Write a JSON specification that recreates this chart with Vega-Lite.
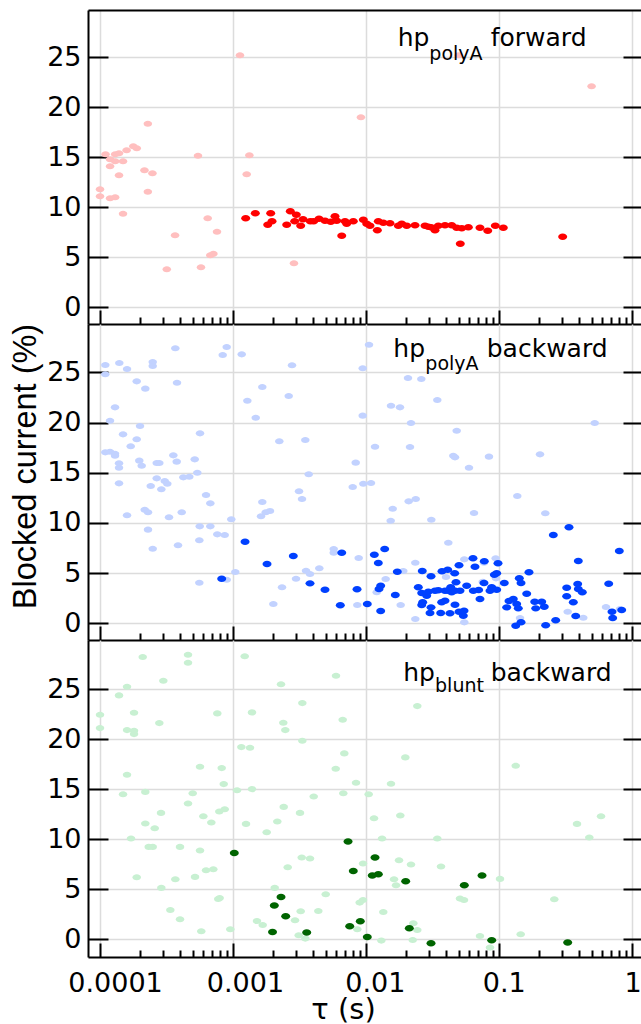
{
  "$schema": "https://vega.github.io/schema/vega-lite/v6.json",
  "padding": {"left": 9, "top": 10, "right": 0, "bottom": 0},
  "background": "white",
  "spacing": 0,
  "bounds": "flush",
  "config": {
    "view": {"stroke": null},
    "axis": {"labelColor": "black", "titleColor": "black", "titleFontWeight": "normal", "labelFont": "DejaVu Sans", "titleFont": "Liberation Sans"}
  },
  "datasets": {
    "forward_all": [
      {"tau":0.0001,"current":11.8},{"tau":0.0001,"current":11.1},{"tau":0.00011,"current":15.3},{"tau":0.000119,"current":14.8},{"tau":0.00013,"current":15.3},{"tau":0.000139,"current":15.4},{"tau":0.00013,"current":14.6},{"tau":0.000149,"current":14.6},{"tau":0.0001585,"current":15.7},{"tau":0.000178,"current":16.1},{"tau":0.000189,"current":15.9},{"tau":0.000119,"current":14.1},{"tau":0.000139,"current":13.2},{"tau":0.000119,"current":10.9},{"tau":0.00013,"current":11.0},{"tau":0.000149,"current":9.35},{"tau":0.000216,"current":13.7},{"tau":0.000248,"current":13.4},{"tau":0.000229,"current":11.55},{"tau":0.000229,"current":18.35},{"tau":0.000318,"current":3.8},{"tau":0.000367,"current":7.2},{"tau":0.000546,"current":15.15},{"tau":0.000575,"current":4.0},{"tau":0.000646,"current":8.9},{"tau":0.000759,"current":7.55},{"tau":0.000676,"current":5.2},{"tau":0.000713,"current":5.35},{"tau":0.00113,"current":25.2},{"tau":0.00133,"current":15.2},{"tau":0.00127,"current":13.3},{"tau":0.00288,"current":4.4},{"tau":0.00919,"current":19.0},{"tau":0.05,"current":25.2},{"tau":0.5,"current":22.1}
    ],
    "forward_sel": [
      {"tau":0.001248,"current":8.9},{"tau":0.001474,"current":9.4},{"tau":0.001925,"current":9.4},{"tau":0.001828,"current":8.25},{"tau":0.001969,"current":8.6},{"tau":0.00254,"current":8.25},{"tau":0.002703,"current":9.6},{"tau":0.003,"current":9.25},{"tau":0.002917,"current":8.6},{"tau":0.003236,"current":8.15},{"tau":0.003368,"current":8.8},{"tau":0.003823,"current":8.6},{"tau":0.004055,"current":8.6},{"tau":0.004446,"current":8.85},{"tau":0.004932,"current":8.65},{"tau":0.00545,"current":8.55},{"tau":0.005864,"current":9.1},{"tau":0.00604,"current":8.65},{"tau":0.00659,"current":7.15},{"tau":0.006975,"current":8.6},{"tau":0.00718,"current":8.35},{"tau":0.00805,"current":8.6},{"tau":0.00958,"current":8.75},{"tau":0.01016,"current":8.35},{"tau":0.01075,"current":8.15},{"tau":0.01221,"current":7.7},{"tau":0.01242,"current":8.6},{"tau":0.01354,"current":8.45},{"tau":0.01521,"current":8.4},{"tau":0.01757,"current":8.15},{"tau":0.01863,"current":8.35},{"tau":0.02032,"current":8.15},{"tau":0.02346,"current":8.2},{"tau":0.02789,"current":8.15},{"tau":0.02954,"current":8.05},{"tau":0.031,"current":8.0},{"tau":0.03317,"current":7.7},{"tau":0.03512,"current":8.15},{"tau":0.03944,"current":8.2},{"tau":0.0443,"current":8.2},{"tau":0.0483,"current":7.95},{"tau":0.0514,"current":6.35},{"tau":0.0527,"current":7.9},{"tau":0.0591,"current":8.0},{"tau":0.0723,"current":7.95},{"tau":0.0827,"current":7.65},{"tau":0.0943,"current":8.15},{"tau":0.1083,"current":7.95},{"tau":0.303,"current":7.05}
    ],
    "back_all": [
      {"tau":0.0001096,"current":25.73},{"tau":0.0001096,"current":24.8},{"tau":0.0001189,"current":20.18},{"tau":0.0001297,"current":21.51},{"tau":0.0001096,"current":17.03},{"tau":0.0001189,"current":17.09},{"tau":0.0001297,"current":16.89},{"tau":0.0001297,"current":16.69},{"tau":0.000139,"current":15.94},{"tau":0.000139,"current":15.5},{"tau":0.000139,"current":13.94},{"tau":0.0001397,"current":25.93},{"tau":0.0001597,"current":25.33},{"tau":0.000149,"current":18.82},{"tau":0.0001597,"current":10.76},{"tau":0.0001702,"current":17.63},{"tau":0.0001889,"current":24.1},{"tau":0.0001889,"current":18.33},{"tau":0.0002,"current":19.65},{"tau":0.0001975,"current":16.2},{"tau":0.0002059,"current":15.7},{"tau":0.0002192,"current":23.37},{"tau":0.0002169,"current":11.31},{"tau":0.0002297,"current":11.06},{"tau":0.0002297,"current":9.33},{"tau":0.0002407,"current":13.68},{"tau":0.0002492,"current":26.03},{"tau":0.0002492,"current":25.63},{"tau":0.0002492,"current":7.43},{"tau":0.0002671,"current":15.97},{"tau":0.0002794,"current":15.97},{"tau":0.0002671,"current":14.44},{"tau":0.0002893,"current":13.35},{"tau":0.0003068,"current":14.17},{"tau":0.0003209,"current":13.9},{"tau":0.0003305,"current":10.56},{"tau":0.0003561,"current":16.73},{"tau":0.0003687,"current":27.39},{"tau":0.0003797,"current":23.96},{"tau":0.0003777,"current":16.1},{"tau":0.0003863,"current":7.77},{"tau":0.000412,"current":11.06},{"tau":0.0004236,"current":14.54},{"tau":0.0004698,"current":14.6},{"tau":0.0005161,"current":16.33},{"tau":0.0005398,"current":15.0},{"tau":0.0005656,"current":18.92},{"tau":0.0005627,"current":9.66},{"tau":0.0005588,"current":8.27},{"tau":0.0005588,"current":4.04},{"tau":0.0006277,"current":12.78},{"tau":0.0006761,"current":11.95},{"tau":0.0006761,"current":9.66},{"tau":0.000763,"current":8.86},{"tau":0.000838,"current":26.72},{"tau":0.0008675,"current":8.79},{"tau":0.000898,"current":27.52},{"tau":0.000972,"current":10.36},{"tau":0.000898,"current":4.34},{"tau":0.001042,"current":5.11},{"tau":0.001165,"current":26.79},{"tau":0.001284,"current":22.17},{"tau":0.001485,"current":20.48},{"tau":0.001664,"current":23.54},{"tau":0.001664,"current":12.08},{"tau":0.001627,"current":10.66},{"tau":0.001766,"current":11.06},{"tau":0.001902,"current":11.19},{"tau":0.002014,"current":1.92},{"tau":0.002234,"current":18.13},{"tau":0.002342,"current":3.59},{"tau":0.00263,"current":22.64},{"tau":0.002784,"current":25.7},{"tau":0.002984,"current":4.44},{"tau":0.003144,"current":13.15},{"tau":0.003311,"current":12.38},{"tau":0.003506,"current":18.26},{"tau":0.003719,"current":14.84},{"tau":0.003548,"current":5.24},{"tau":0.003803,"current":4.91},{"tau":0.004468,"current":5.48},{"tau":0.005734,"current":7.4},{"tau":0.005734,"current":7.03},{"tau":0.00884,"current":6.5},{"tau":0.00863,"current":1.82},{"tau":0.01208,"current":3.09},{"tau":0.01411,"current":4.41},{"tau":0.01057,"current":27.75},{"tau":0.00948,"current":25.4},{"tau":0.00948,"current":20.68},{"tau":0.01173,"current":17.59},{"tau":0.008395,"current":16.0},{"tau":0.00797,"current":13.58},{"tau":0.00958,"current":13.9},{"tau":0.01094,"current":13.97},{"tau":0.02102,"current":12.15},{"tau":0.02375,"current":12.38},{"tau":0.01594,"current":11.41},{"tau":0.01539,"current":10.22},{"tau":0.02077,"current":24.43},{"tau":0.02616,"current":24.33},{"tau":0.03451,"current":22.24},{"tau":0.01547,"current":21.67},{"tau":0.01808,"current":21.51},{"tau":0.02188,"current":19.95},{"tau":0.02151,"current":17.56},{"tau":0.0483,"current":19.18},{"tau":0.0469,"current":16.53},{"tau":0.04553,"current":16.69},{"tau":0.05976,"current":15.5},{"tau":0.0845,"current":16.6},{"tau":0.0652,"current":10.99},{"tau":0.03111,"current":10.32},{"tau":0.138,"current":12.68},{"tau":0.2046,"current":16.83},{"tau":0.2242,"current":10.96},{"tau":0.5277,"current":19.95},{"tau":0.04177,"current":8.03},{"tau":0.01915,"current":5.21},{"tau":0.02358,"current":6.04},{"tau":0.0551,"current":6.37},{"tau":0.0775,"current":6.04},{"tau":0.0949,"current":6.47},{"tau":0.0183,"current":1.82},{"tau":0.02358,"current":0.43},{"tau":0.0551,"current":0.1},{"tau":0.04013,"current":4.61},{"tau":0.0758,"current":4.14},{"tau":0.0954,"current":4.48},{"tau":0.1446,"current":0.53},{"tau":0.3305,"current":1.16},{"tau":0.4331,"current":0.56},{"tau":0.6418,"current":1.62},{"tau":0.8178,"current":1.42}
    ],
    "back_sel": [
      {"tau":0.0008235,"current":4.44},{"tau":0.001234,"current":8.13},{"tau":0.001806,"current":5.91},{"tau":0.002847,"current":6.7},{"tau":0.003803,"current":3.98},{"tau":0.004932,"current":3.35},{"tau":0.006428,"current":1.79},{"tau":0.00659,"current":7.03},{"tau":0.00859,"current":3.39},{"tau":0.01026,"current":1.92},{"tau":0.01159,"current":6.83},{"tau":0.01242,"current":6.01},{"tau":0.01294,"current":1.23},{"tau":0.01257,"current":3.42},{"tau":0.01294,"current":3.75},{"tau":0.01387,"current":7.4},{"tau":0.01726,"current":5.14},{"tau":0.01667,"current":2.82},{"tau":0.02483,"current":3.59},{"tau":0.02634,"current":3.02},{"tau":0.02872,"current":2.75},{"tau":0.0268,"current":2.09},{"tau":0.02634,"current":1.82},{"tau":0.03095,"current":4.68},{"tau":0.03095,"current":1.59},{"tau":0.03042,"current":1.03},{"tau":0.0266,"current":5.21},{"tau":0.03744,"current":5.18},{"tau":0.04133,"current":5.34},{"tau":0.04665,"current":4.98},{"tau":0.05028,"current":5.78},{"tau":0.06405,"current":6.47},{"tau":0.06632,"current":5.64},{"tau":0.07791,"current":6.18},{"tau":0.09879,"current":5.98},{"tau":0.0966,"current":4.98},{"tau":0.0927,"current":4.84},{"tau":0.04772,"current":4.08},{"tau":0.04354,"current":3.59},{"tau":0.04177,"current":3.25},{"tau":0.0443,"current":3.09},{"tau":0.0469,"current":3.25},{"tau":0.05115,"current":3.25},{"tau":0.05743,"current":3.75},{"tau":0.03512,"current":3.29},{"tau":0.03317,"current":3.25},{"tau":0.03944,"current":3.25},{"tau":0.02954,"current":3.15},{"tau":0.0366,"current":1.03},{"tau":0.043,"current":1.0},{"tau":0.05028,"current":1.16},{"tau":0.05417,"current":0.76},{"tau":0.05483,"current":1.25},{"tau":0.0469,"current":1.85},{"tau":0.03944,"current":2.25},{"tau":0.03725,"current":2.09},{"tau":0.0644,"current":3.25},{"tau":0.0707,"current":3.32},{"tau":0.0723,"current":2.42},{"tau":0.0775,"current":4.01},{"tau":0.086,"current":3.25},{"tau":0.0886,"current":3.59},{"tau":0.0966,"current":3.35},{"tau":0.1102,"current":4.01},{"tau":0.1195,"current":2.22},{"tau":0.1288,"current":2.42},{"tau":0.1429,"current":4.48},{"tau":0.1472,"current":4.01},{"tau":0.1366,"current":1.92},{"tau":0.1404,"current":1.49},{"tau":0.1148,"current":1.59},{"tau":0.1625,"current":2.95},{"tau":0.169,"current":5.08},{"tau":0.1866,"current":2.15},{"tau":0.2107,"current":2.15},{"tau":0.1899,"current":1.49},{"tau":0.2203,"current":1.65},{"tau":0.1343,"current":-0.24},{"tau":0.1472,"current":0.1},{"tau":0.2257,"current":-0.2},{"tau":0.2685,"current":0.3},{"tau":0.2576,"current":8.79},{"tau":0.338,"current":9.56},{"tau":0.3972,"current":6.21},{"tau":0.3249,"current":3.55},{"tau":0.393,"current":3.91},{"tau":0.3972,"current":3.42},{"tau":0.4256,"current":3.09},{"tau":0.3249,"current":2.69},{"tau":0.3641,"current":2.09},{"tau":0.3797,"current":0.73},{"tau":0.6726,"current":3.94},{"tau":0.712,"current":1.16},{"tau":0.7207,"current":0.53},{"tau":0.8424,"current":1.32},{"tau":0.8081,"current":7.2}
    ],
    "blunt_all": [
      {"tau":0.0001,"current":22.42},{"tau":0.0001,"current":21.09},{"tau":0.000139,"current":24.36},{"tau":0.0001597,"current":25.23},{"tau":0.0001803,"current":22.62},{"tau":0.0001597,"current":20.89},{"tau":0.0001803,"current":20.82},{"tau":0.0001803,"current":20.49},{"tau":0.0002096,"current":28.2},{"tau":0.0002995,"current":25.83},{"tau":0.0002794,"current":21.59},{"tau":0.0001597,"current":16.42},{"tau":0.000149,"current":14.48},{"tau":0.0002192,"current":14.71},{"tau":0.0001711,"current":10.05},{"tau":0.0002192,"current":11.55},{"tau":0.000258,"current":11.08},{"tau":0.0002325,"current":9.21},{"tau":0.0002492,"current":9.21},{"tau":0.0002877,"current":12.61},{"tau":0.0001889,"current":6.18},{"tau":0.0002893,"current":5.11},{"tau":0.0003381,"current":2.9},{"tau":0.0003687,"current":5.98},{"tau":0.0003999,"current":9.21},{"tau":0.0003999,"current":1.97},{"tau":0.0004594,"current":28.43},{"tau":0.0004594,"current":27.63},{"tau":0.0004594,"current":13.55},{"tau":0.0004984,"current":14.58},{"tau":0.0005656,"current":17.22},{"tau":0.0005656,"current":8.85},{"tau":0.0005186,"current":6.21},{"tau":0.000599,"current":12.28},{"tau":0.0006277,"current":6.88},{"tau":0.0006879,"current":11.65},{"tau":0.000712,"current":6.98},{"tau":0.000578,"current":0.77},{"tau":0.000763,"current":22.56},{"tau":0.0008235,"current":17.09},{"tau":0.000853,"current":15.49},{"tau":0.00079,"current":12.75},{"tau":0.0008675,"current":12.98},{"tau":0.000795,"current":4.1},{"tau":0.000775,"current":4.0},{"tau":0.000956,"current":0.97},{"tau":0.001227,"current":28.27},{"tau":0.001392,"current":22.66},{"tau":0.001074,"current":14.88},{"tau":0.001392,"current":14.99},{"tau":0.001157,"current":19.19},{"tau":0.001345,"current":19.12},{"tau":0.001255,"current":11.51},{"tau":0.001796,"current":10.68},{"tau":0.002301,"current":25.47},{"tau":0.002394,"current":21.62},{"tau":0.002479,"current":20.89},{"tau":0.003329,"current":23.59},{"tau":0.003329,"current":19.82},{"tau":0.004055,"current":14.25},{"tau":0.003198,"current":12.61},{"tau":0.002158,"current":11.75},{"tau":0.002411,"current":13.21},{"tau":0.002585,"current":7.18},{"tau":0.003295,"current":8.15},{"tau":0.003803,"current":8.05},{"tau":0.002063,"current":5.11},{"tau":0.001518,"current":1.8},{"tau":0.001676,"current":1.4},{"tau":0.002933,"current":1.87},{"tau":0.003236,"current":2.77},{"tau":0.003126,"current":0.37},{"tau":0.003506,"current":0.04},{"tau":0.004392,"current":2.8},{"tau":0.004993,"current":4.47},{"tau":0.00863,"current":0.97},{"tau":0.008997,"current":3.64},{"tau":0.00953,"current":3.9},{"tau":0.00953,"current":7.55},{"tau":0.005968,"current":26.33},{"tau":0.0067,"current":21.92},{"tau":0.00689,"current":18.56},{"tau":0.005937,"current":17.02},{"tau":0.00844,"current":15.62},{"tau":0.00677,"current":14.58},{"tau":0.01051,"current":14.48},{"tau":0.01153,"current":12.08},{"tau":0.01325,"current":10.05},{"tau":0.01309,"current":-0.16},{"tau":0.01354,"current":2.7},{"tau":0.0163,"current":5.98},{"tau":0.01688,"current":5.38},{"tau":0.01778,"current":7.88},{"tau":0.01818,"current":12.35},{"tau":0.01547,"current":15.52},{"tau":0.01983,"current":18.16},{"tau":0.02188,"current":7.45},{"tau":0.02441,"current":23.29},{"tau":0.03451,"current":10.05},{"tau":0.0368,"current":7.25},{"tau":0.02278,"current":1.57},{"tau":0.02441,"current":0.9},{"tau":0.02254,"current":-0.1},{"tau":0.05115,"current":4.04},{"tau":0.05483,"current":3.9},{"tau":0.0723,"current":0.3},{"tau":0.086,"current":-0.86},{"tau":0.1023,"current":6.01},{"tau":0.1343,"current":17.32},{"tau":0.1464,"current":0.47},{"tau":0.262,"current":3.97},{"tau":0.3884,"current":11.51},{"tau":0.4806,"current":10.15},{"tau":0.5888,"current":12.28}
    ],
    "blunt_sel": [
      {"tau":0.001024,"current":8.61},{"tau":0.002301,"current":4.2},{"tau":0.002049,"current":3.34},{"tau":0.002496,"current":2.27},{"tau":0.001986,"current":0.7},{"tau":0.003592,"current":0.64},{"tau":0.00735,"current":9.75},{"tau":0.00805,"current":6.81},{"tau":0.00757,"current":1.27},{"tau":0.00909,"current":1.77},{"tau":0.01026,"current":0.2},{"tau":0.01173,"current":8.15},{"tau":0.01119,"current":6.35},{"tau":0.01242,"current":6.48},{"tau":0.01996,"current":5.78},{"tau":0.02125,"current":1.07},{"tau":0.03095,"current":-0.43},{"tau":0.0551,"current":5.38},{"tau":0.0749,"current":6.35},{"tau":0.0886,"current":-0.13},{"tau":0.3305,"current":-0.36}
    ],
    "labels": [
      {"panel":"forward","part":"main","text":"hp","tau":0.01738,"current":26.16},
      {"panel":"forward","part":"sub","text":"polyA","tau":0.03006,"current":24.76},
      {"panel":"forward","part":"main","text":"forward","tau":0.0871,"current":26.16},
      {"panel":"back","part":"main","text":"hp","tau":0.01611,"current":26.55},
      {"panel":"back","part":"sub","text":"polyA","tau":0.02806,"current":25.26},
      {"panel":"back","part":"main","text":"backward","tau":0.0813,"current":26.55},
      {"panel":"blunt","part":"main","text":"hp","tau":0.01914,"current":25.83},
      {"panel":"blunt","part":"sub","text":"blunt","tau":0.0332,"current":24.73},
      {"panel":"blunt","part":"main","text":"backward","tau":0.0871,"current":25.83}
    ]
  },
  "vconcat": [
    {
      "width": 553, "height": 314,
      "layer": [
        {"data": {"name": "forward_all"},
         "mark": {"type": "point", "shape": "M-1,0A1,0.72,0,1,0,1,0A1,0.72,0,1,0,-1,0Z", "filled": true, "size": 72, "opacity": 1, "color": "#ffbfbf"},
         "encoding": {
           "x": {"field": "tau", "type": "quantitative", "scale": {"type": "log", "domain": [0.0000812, 1.177], "nice": false},
                 "axis": {"orient": "bottom", "values": [0.0001,0.0002,0.0003,0.0004,0.0005,0.0006,0.0007,0.0008,0.0009,0.001,0.002,0.003,0.004,0.005,0.006,0.007,0.008,0.009,0.01,0.02,0.03,0.04,0.05,0.06,0.07,0.08,0.09,0.1,0.2,0.3,0.4,0.5,0.6,0.7,0.8,0.9,1],
                          "grid": true, "gridColor": "#dcdcdc", "gridWidth": 1.5,
                          "gridOpacity": {"condition": {"test": "abs(log(datum.value)/LN10 - round(log(datum.value)/LN10)) < 0.001", "value": 1}, "value": 0},
                          "tickSize": {"condition": {"test": "abs(log(datum.value)/LN10 - round(log(datum.value)/LN10)) < 0.001", "value": -14}, "value": -7},
                          "tickColor": "black", "tickWidth": 2, "domainColor": "black", "domainWidth": 2, "labels": false, "title": null}},
           "y": {"field": "current", "type": "quantitative", "scale": {"domain": [-1.67, 29.73], "nice": false, "zero": false},
                 "axis": {"orient": "left", "values": [0,5,10,15,20,25], "grid": true, "gridColor": "#dcdcdc", "gridWidth": 1.5, "tickSize": -20, "tickColor": "black", "tickWidth": 2, "domainColor": "black", "domainWidth": 2, "labelFontSize": 27, "labelPadding": 27, "labelFlush": false, "title": null}}
         }},
        {"data": {"name": "forward_sel"},
         "mark": {"type": "point", "shape": "M-1,0A1,0.72,0,1,0,1,0A1,0.72,0,1,0,-1,0Z", "filled": true, "size": 81, "opacity": 1, "color": "#ff0000"},
         "encoding": {
           "x": {"field": "tau", "type": "quantitative", "scale": {"type": "log", "domain": [0.0000812, 1.177], "nice": false},
                 "axis": {"orient": "top", "grid": false, "ticks": false, "labels": false, "domainColor": "black", "domainWidth": 2, "title": null}},
           "y": {"field": "current", "type": "quantitative", "scale": {"domain": [-1.67, 29.73], "nice": false, "zero": false},
                 "axis": {"orient": "right", "values": [0,5,10,15,20,25], "grid": false, "domain": false, "labels": false, "tickSize": -18, "tickColor": "black", "tickWidth": 2, "title": null}}
         }},
        {"data": {"name": "labels"},
         "transform": [{"filter": "datum.panel === 'forward' && datum.part === 'main'"}],
         "mark": {"type": "text", "align": "left", "baseline": "alphabetic", "font": "DejaVu Sans", "fontSize": 25, "color": "black"},
         "encoding": {
           "x": {"field": "tau", "type": "quantitative", "scale": {"type": "log", "domain": [0.0000812, 1.177], "nice": false}, "axis": null},
           "y": {"field": "current", "type": "quantitative", "scale": {"domain": [-1.67, 29.73], "nice": false, "zero": false}, "axis": null},
           "text": {"field": "text"}
         }},
        {"data": {"name": "labels"},
         "transform": [{"filter": "datum.panel === 'forward' && datum.part === 'sub'"}],
         "mark": {"type": "text", "align": "left", "baseline": "alphabetic", "font": "DejaVu Sans", "fontSize": 19, "color": "black"},
         "encoding": {
           "x": {"field": "tau", "type": "quantitative", "scale": {"type": "log", "domain": [0.0000812, 1.177], "nice": false}, "axis": null},
           "y": {"field": "current", "type": "quantitative", "scale": {"domain": [-1.67, 29.73], "nice": false, "zero": false}, "axis": null},
           "text": {"field": "text"}
         }}
      ],
      "resolve": {"axis": {"x": "independent", "y": "independent"}}
    },
    {
      "width": 553, "height": 316,
      "layer": [
        {"data": {"name": "back_all"},
         "mark": {"type": "point", "shape": "M-1,0A1,0.72,0,1,0,1,0A1,0.72,0,1,0,-1,0Z", "filled": true, "size": 72, "opacity": 1, "color": "#c2d2ff"},
         "encoding": {
           "x": {"field": "tau", "type": "quantitative", "scale": {"type": "log", "domain": [0.0000812, 1.177], "nice": false},
                 "axis": {"orient": "bottom", "values": [0.0001,0.0002,0.0003,0.0004,0.0005,0.0006,0.0007,0.0008,0.0009,0.001,0.002,0.003,0.004,0.005,0.006,0.007,0.008,0.009,0.01,0.02,0.03,0.04,0.05,0.06,0.07,0.08,0.09,0.1,0.2,0.3,0.4,0.5,0.6,0.7,0.8,0.9,1],
                          "grid": true, "gridColor": "#dcdcdc", "gridWidth": 1.5,
                          "gridOpacity": {"condition": {"test": "abs(log(datum.value)/LN10 - round(log(datum.value)/LN10)) < 0.001", "value": 1}, "value": 0},
                          "tickSize": {"condition": {"test": "abs(log(datum.value)/LN10 - round(log(datum.value)/LN10)) < 0.001", "value": -14}, "value": -7},
                          "tickColor": "black", "tickWidth": 2, "domainColor": "black", "domainWidth": 2, "labels": false, "title": null}},
           "y": {"field": "current", "type": "quantitative", "scale": {"domain": [-1.66, 29.81], "nice": false, "zero": false},
                 "axis": {"orient": "left", "values": [0,5,10,15,20,25], "grid": true, "gridColor": "#dcdcdc", "gridWidth": 1.5, "tickSize": -20, "tickColor": "black", "tickWidth": 2, "domainColor": "black", "domainWidth": 2, "labelFontSize": 27, "labelPadding": 27, "labelFlush": false,
                          "title": "Blocked current (%)", "titleFont": "Liberation Sans", "titleFontSize": 32.5, "titlePadding": 4, "titleY": 142, "titleAlign": "center"}}
         }},
        {"data": {"name": "back_sel"},
         "mark": {"type": "point", "shape": "M-1,0A1,0.72,0,1,0,1,0A1,0.72,0,1,0,-1,0Z", "filled": true, "size": 81, "opacity": 1, "color": "#0040ff"},
         "encoding": {
           "x": {"field": "tau", "type": "quantitative", "scale": {"type": "log", "domain": [0.0000812, 1.177], "nice": false}, "axis": null},
           "y": {"field": "current", "type": "quantitative", "scale": {"domain": [-1.66, 29.81], "nice": false, "zero": false},
                 "axis": {"orient": "right", "values": [0,5,10,15,20,25], "grid": false, "domain": false, "labels": false, "tickSize": -18, "tickColor": "black", "tickWidth": 2, "title": null}}
         }},
        {"data": {"name": "labels"},
         "transform": [{"filter": "datum.panel === 'back' && datum.part === 'main'"}],
         "mark": {"type": "text", "align": "left", "baseline": "alphabetic", "font": "DejaVu Sans", "fontSize": 25, "color": "black"},
         "encoding": {
           "x": {"field": "tau", "type": "quantitative", "scale": {"type": "log", "domain": [0.0000812, 1.177], "nice": false}, "axis": null},
           "y": {"field": "current", "type": "quantitative", "scale": {"domain": [-1.66, 29.81], "nice": false, "zero": false}, "axis": null},
           "text": {"field": "text"}
         }},
        {"data": {"name": "labels"},
         "transform": [{"filter": "datum.panel === 'back' && datum.part === 'sub'"}],
         "mark": {"type": "text", "align": "left", "baseline": "alphabetic", "font": "DejaVu Sans", "fontSize": 19, "color": "black"},
         "encoding": {
           "x": {"field": "tau", "type": "quantitative", "scale": {"type": "log", "domain": [0.0000812, 1.177], "nice": false}, "axis": null},
           "y": {"field": "current", "type": "quantitative", "scale": {"domain": [-1.66, 29.81], "nice": false, "zero": false}, "axis": null},
           "text": {"field": "text"}
         }}
      ],
      "resolve": {"axis": {"x": "independent", "y": "independent"}}
    },
    {
      "width": 553, "height": 317,
      "layer": [
        {"data": {"name": "blunt_all"},
         "mark": {"type": "point", "shape": "M-1,0A1,0.72,0,1,0,1,0A1,0.72,0,1,0,-1,0Z", "filled": true, "size": 72, "opacity": 1, "color": "#c8f0d2"},
         "encoding": {
           "x": {"field": "tau", "type": "quantitative", "scale": {"type": "log", "domain": [0.0000812, 1.177], "nice": false},
                 "axis": {"orient": "bottom", "values": [0.0001,0.0002,0.0003,0.0004,0.0005,0.0006,0.0007,0.0008,0.0009,0.001,0.002,0.003,0.004,0.005,0.006,0.007,0.008,0.009,0.01,0.02,0.03,0.04,0.05,0.06,0.07,0.08,0.09,0.1,0.2,0.3,0.4,0.5,0.6,0.7,0.8,0.9,1],
                          "grid": true, "gridColor": "#dcdcdc", "gridWidth": 1.5,
                          "gridOpacity": {"condition": {"test": "abs(log(datum.value)/LN10 - round(log(datum.value)/LN10)) < 0.001", "value": 1}, "value": 0},
                          "tickSize": {"condition": {"test": "abs(log(datum.value)/LN10 - round(log(datum.value)/LN10)) < 0.001", "value": -14}, "value": -7},
                          "tickColor": "black", "tickWidth": 2, "domainColor": "black", "domainWidth": 2,
                          "labels": true, "labelFontSize": 27, "labelPadding": 27, "labelFlush": false, "labelOverlap": false, "labelBound": false,
                          "labelOffset": {"condition": [{"test": "datum.value < 0.0005", "value": 15}, {"test": "datum.value < 0.005", "value": 12}, {"test": "datum.value < 0.05", "value": 9}, {"test": "datum.value < 0.5", "value": 5}], "value": 1},
                          "labelExpr": "abs(log(datum.value)/LN10 - round(log(datum.value)/LN10)) < 0.001 ? format(datum.value, '.4~f') : ''",
                          "title": "τ (s)", "titleFont": "DejaVu Sans", "titleFontSize": 29, "titleAlign": "center", "titleX": 255, "titleY": 61, "titleBaseline": "alphabetic"}},
           "y": {"field": "current", "type": "quantitative", "scale": {"domain": [-1.8, 29.9], "nice": false, "zero": false},
                 "axis": {"orient": "left", "values": [0,5,10,15,20,25], "grid": true, "gridColor": "#dcdcdc", "gridWidth": 1.5, "tickSize": -20, "tickColor": "black", "tickWidth": 2, "domainColor": "black", "domainWidth": 2, "labelFontSize": 27, "labelPadding": 27, "labelFlush": false, "title": null}}
         }},
        {"data": {"name": "blunt_sel"},
         "mark": {"type": "point", "shape": "M-1,0A1,0.72,0,1,0,1,0A1,0.72,0,1,0,-1,0Z", "filled": true, "size": 81, "opacity": 1, "color": "#006400"},
         "encoding": {
           "x": {"field": "tau", "type": "quantitative", "scale": {"type": "log", "domain": [0.0000812, 1.177], "nice": false}, "axis": null},
           "y": {"field": "current", "type": "quantitative", "scale": {"domain": [-1.8, 29.9], "nice": false, "zero": false},
                 "axis": {"orient": "right", "values": [0,5,10,15,20,25], "grid": false, "domain": false, "labels": false, "tickSize": -18, "tickColor": "black", "tickWidth": 2, "title": null}}
         }},
        {"data": {"name": "labels"},
         "transform": [{"filter": "datum.panel === 'blunt' && datum.part === 'main'"}],
         "mark": {"type": "text", "align": "left", "baseline": "alphabetic", "font": "DejaVu Sans", "fontSize": 25, "color": "black"},
         "encoding": {
           "x": {"field": "tau", "type": "quantitative", "scale": {"type": "log", "domain": [0.0000812, 1.177], "nice": false}, "axis": null},
           "y": {"field": "current", "type": "quantitative", "scale": {"domain": [-1.8, 29.9], "nice": false, "zero": false}, "axis": null},
           "text": {"field": "text"}
         }},
        {"data": {"name": "labels"},
         "transform": [{"filter": "datum.panel === 'blunt' && datum.part === 'sub'"}],
         "mark": {"type": "text", "align": "left", "baseline": "alphabetic", "font": "DejaVu Sans", "fontSize": 19, "color": "black"},
         "encoding": {
           "x": {"field": "tau", "type": "quantitative", "scale": {"type": "log", "domain": [0.0000812, 1.177], "nice": false}, "axis": null},
           "y": {"field": "current", "type": "quantitative", "scale": {"domain": [-1.8, 29.9], "nice": false, "zero": false}, "axis": null},
           "text": {"field": "text"}
         }}
      ],
      "resolve": {"axis": {"x": "independent", "y": "independent"}}
    }
  ]
}
